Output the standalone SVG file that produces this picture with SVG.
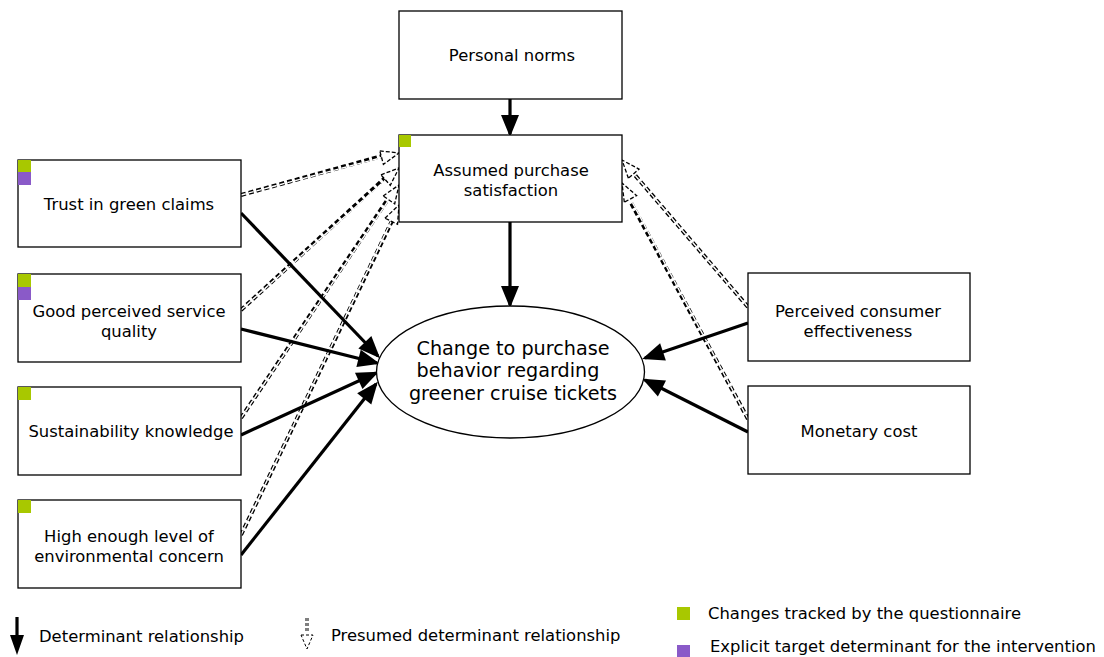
<svg xmlns="http://www.w3.org/2000/svg" width="1104" height="657" viewBox="0 0 1104 657">
<style>
.box{fill:#fff;stroke:#000;stroke-width:1.3}
.t{font-family:"DejaVu Sans",sans-serif;font-size:16.4px;fill:#000;text-anchor:middle}
.lt{font-family:"DejaVu Sans",sans-serif;font-size:16.4px;fill:#000}
.e{font-family:"DejaVu Sans",sans-serif;font-size:19.2px;fill:#000;text-anchor:middle}
.g{fill:#a8c800}
.p{fill:#8a5ac8}
.solid{stroke:#000;stroke-width:3.2;fill:none;marker-end:url(#ah)}
.dblk{stroke:#000;stroke-width:4;fill:none;stroke-dasharray:5 3}
.dwht{stroke:#fff;stroke-width:1.4;fill:none;stroke-dasharray:5 3;marker-end:url(#dh)}
</style>
<defs>
<marker id="ah" markerUnits="userSpaceOnUse" markerWidth="24" markerHeight="20" refX="19" refY="9" orient="auto" overflow="visible">
<path d="M0,0 L22,9 L0,18 z" fill="#000"/>
</marker>
<marker id="dh" markerUnits="userSpaceOnUse" markerWidth="22" markerHeight="18" refX="18" refY="7" orient="auto" overflow="visible">
<path d="M0,0 L18,7 L0,14 z" fill="#fff" stroke="#000" stroke-width="1.3" stroke-dasharray="4 2"/>
</marker>
</defs>
<rect width="1104" height="657" fill="#fff"/>

<g id="connectors">
<path class="dblk" d="M241,195 L382,156"/><path class="dwht" d="M241,195 L399,153"/>
<path class="dblk" d="M241,310 L385,178"/><path class="dwht" d="M241,310 L399,168"/>
<path class="dblk" d="M241,418 L388,199"/><path class="dwht" d="M241,418 L399,185"/>
<path class="dblk" d="M241,535 L392,221"/><path class="dwht" d="M241,535 L399,205"/>
<path class="dblk" d="M748,307 L634,174"/><path class="dwht" d="M748,307 L622,160"/>
<path class="dblk" d="M748,419 L630,201"/><path class="dwht" d="M748,419 L622,183"/>
<path class="solid" d="M510,99 L510,134"/>
<path class="solid" d="M510,222 L510,305"/>
<path class="solid" d="M241,213 L378,356"/>
<path class="solid" d="M241,329 L377,363"/>
<path class="solid" d="M241,435 L376,373"/>
<path class="solid" d="M241,555 L376,384"/>
<path class="solid" d="M748,323 L645,358"/>
<path class="solid" d="M748,432 L645,380"/>
</g>

<g id="personal-norms">
<rect class="box" x="399" y="11" width="223" height="88"/>
<text class="t" x="512" y="61">Personal norms</text>
</g>
<g id="assumed-purchase-satisfaction">
<rect class="box" x="399" y="135" width="223" height="87"/>
<rect class="g" x="399" y="135" width="12" height="12"/>
<text class="t" x="511" y="176">Assumed purchase</text>
<text class="t" x="511" y="196">satisfaction</text>
</g>
<g id="trust-in-green-claims">
<rect class="box" x="18" y="160" width="223" height="87"/>
<rect class="g" x="18" y="160" width="13" height="12"/>
<rect class="p" x="18" y="172" width="13" height="13"/>
<text class="t" x="129" y="210">Trust in green claims</text>
</g>
<g id="good-perceived-service-quality">
<rect class="box" x="18" y="274" width="223" height="88"/>
<rect class="g" x="18" y="274" width="13" height="13"/>
<rect class="p" x="18" y="287" width="13" height="13"/>
<text class="t" x="129" y="317">Good perceived service</text>
<text class="t" x="129" y="337">quality</text>
</g>
<g id="sustainability-knowledge">
<rect class="box" x="18" y="387" width="223" height="88"/>
<rect class="g" x="18" y="387" width="13" height="13"/>
<text class="t" x="131" y="437">Sustainability knowledge</text>
</g>
<g id="environmental-concern">
<rect class="box" x="18" y="500" width="223" height="88"/>
<rect class="g" x="18" y="500" width="13" height="13"/>
<text class="t" x="129" y="542">High enough level of</text>
<text class="t" x="129" y="562">environmental concern</text>
</g>
<g id="perceived-consumer-effectiveness">
<rect class="box" x="748" y="273" width="222" height="88"/>
<text class="t" x="858" y="317">Perceived consumer</text>
<text class="t" x="858" y="337">effectiveness</text>
</g>
<g id="monetary-cost">
<rect class="box" x="748" y="386" width="222" height="88"/>
<text class="t" x="859" y="437">Monetary cost</text>
</g>
<g id="change-to-purchase-behavior">
<ellipse cx="510.5" cy="372" rx="134" ry="66" fill="#fff" stroke="#000" stroke-width="1.3"/>
<text class="e" x="513" y="355">Change to purchase</text>
<text class="e" x="508" y="377">behavior regarding</text>
<text class="e" x="513" y="400">greener cruise tickets</text>
</g>

<g id="legend">
<path d="M17,617 L17,637" stroke="#000" stroke-width="3.2"/>
<path d="M10,635 L24,635 L17,655 z" fill="#000"/>
<text class="lt" x="39" y="642">Determinant relationship</text>
<path d="M307,618 L307,632" stroke="#000" stroke-width="3" stroke-dasharray="3 2"/>
<path d="M307,618 L307,632" stroke="#fff" stroke-width="1" stroke-dasharray="3 2"/>
<path d="M301,635 L313,635 L307,649 z" fill="#fff" stroke="#000" stroke-width="1" stroke-dasharray="3 2"/>
<text class="lt" x="331" y="641">Presumed determinant relationship</text>
<rect class="g" x="677" y="607" width="13" height="13"/>
<text class="lt" x="708" y="619">Changes tracked by the questionnaire</text>
<rect class="p" x="677" y="645" width="13" height="12"/>
<text class="lt" x="710" y="652">Explicit target determinant for the intervention</text>
</g>
</svg>
